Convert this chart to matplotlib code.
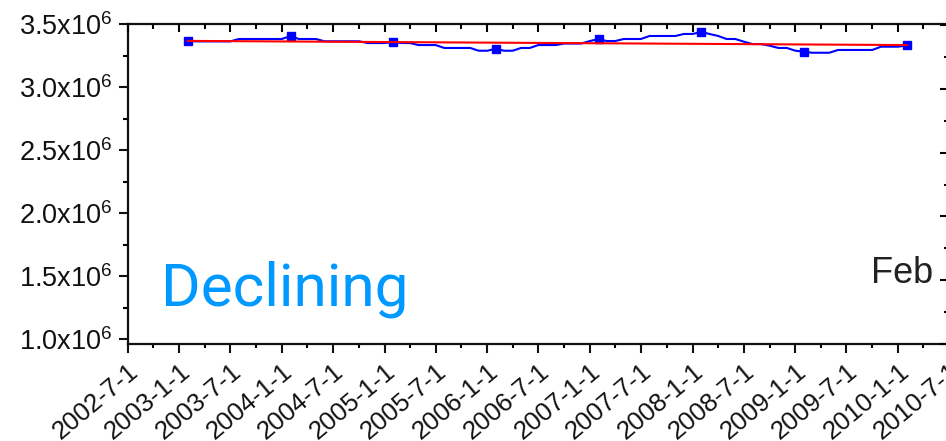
import datetime as dt
import matplotlib
matplotlib.use("Agg")
import matplotlib.pyplot as plt
import matplotlib.dates as mdates
from matplotlib.ticker import FixedLocator, FixedFormatter, NullFormatter

plt.rcParams["font.family"] = ["Liberation Sans", "DejaVu Sans"]
plt.rcParams["mathtext.fontset"] = "custom"
plt.rcParams["mathtext.rm"] = "Liberation Sans"
plt.rcParams["mathtext.it"] = "Liberation Sans"

# ---- data -------------------------------------------------------------
# monthly values, Feb 2003 .. Feb 2010
start_year, start_month = 2003, 2
monthly_values = [
    # 2003 (Feb-Dec)
    3.367e6, 3.362e6, 3.362e6, 3.362e6, 3.362e6, 3.362e6,
    3.381e6, 3.381e6, 3.381e6, 3.381e6, 3.381e6,
    # 2004
    3.381e6, 3.405e6, 3.381e6, 3.381e6, 3.381e6, 3.363e6,
    3.363e6, 3.363e6, 3.363e6, 3.363e6, 3.349e6, 3.349e6,
    # 2005
    3.349e6, 3.357e6, 3.349e6, 3.349e6, 3.333e6, 3.333e6,
    3.333e6, 3.310e6, 3.310e6, 3.310e6, 3.310e6, 3.288e6,
    # 2006
    3.288e6, 3.304e6, 3.288e6, 3.288e6, 3.310e6, 3.310e6,
    3.333e6, 3.333e6, 3.333e6, 3.345e6, 3.345e6, 3.345e6,
    # 2007
    3.365e6, 3.381e6, 3.365e6, 3.365e6, 3.381e6, 3.381e6,
    3.381e6, 3.405e6, 3.405e6, 3.405e6, 3.405e6, 3.421e6,
    # 2008
    3.421e6, 3.437e6, 3.421e6, 3.405e6, 3.381e6, 3.381e6,
    3.360e6, 3.341e6, 3.341e6, 3.328e6, 3.310e6, 3.310e6,
    # 2009
    3.288e6, 3.280e6, 3.272e6, 3.272e6, 3.272e6, 3.294e6,
    3.294e6, 3.294e6, 3.294e6, 3.294e6, 3.320e6, 3.320e6,
    # 2010 (Jan-Feb)
    3.320e6, 3.330e6,
]

# linear trend end points (Feb 2003, Feb 2010)
trend_dates = [dt.date(2003, 2, 1), dt.date(2010, 2, 1)]
trend_values = [3.366e6, 3.333e6]

x_tick_labels = ["2002-7-1", "2003-1-1", "2003-7-1", "2004-1-1", "2004-7-1",
                 "2005-1-1", "2005-7-1", "2006-1-1", "2006-7-1", "2007-1-1",
                 "2007-7-1", "2008-1-1", "2008-7-1", "2009-1-1", "2009-7-1",
                 "2010-1-1", "2010-7-1"]
y_tick_values = [1.0e6, 1.5e6, 2.0e6, 2.5e6, 3.0e6, 3.5e6]
y_tick_labels = [r"1.0x10$^{6}$", r"1.5x10$^{6}$", r"2.0x10$^{6}$",
                 r"2.5x10$^{6}$", r"3.0x10$^{6}$", r"3.5x10$^{6}$"]

# ---- derived positions -------------------------------------------------
def month_date(i):
    m = start_month - 1 + i
    return dt.date(start_year + m // 12, m % 12 + 1, 1)

month_dates = [month_date(i) for i in range(len(monthly_values))]
month_x = mdates.date2num(month_dates)
feb_idx = [i for i, d in enumerate(month_dates) if d.month == 2]
trend_x = mdates.date2num(trend_dates)

major_dates = [dt.date(int(s.split("-")[0]), int(s.split("-")[1]), 1) for s in x_tick_labels]
major_x = mdates.date2num(major_dates)
minor_x = mdates.date2num([dt.date(d.year, d.month + 3, 1) for d in major_dates[:-1]])
y_minor = [v + 0.25e6 for v in y_tick_values[:-1]]

# ---- figure -------------------------------------------------------------
W, H = 946, 441
fig = plt.figure(figsize=(W / 100, H / 100), dpi=100)

def px_box(left, top, right, bottom):
    return [left / W, 1 - bottom / H, (right - left) / W, (bottom - top) / H]

ax = fig.add_axes(px_box(127.5, 24, 949, 343.5))
ax.set_xlim(major_x[0], major_x[-1])
ax.set_ylim(0.966e6, 3.5e6)

ax.plot(month_x, monthly_values, color="#0000ff", lw=1.5,
        marker="s", ms=5.5, markevery=feb_idx, zorder=3)
ax.plot(trend_x, trend_values, color="#ff0000", lw=1.5, zorder=4)

ax.spines["right"].set_visible(False)
for side in ("left", "top", "bottom"):
    ax.spines[side].set_linewidth(1.6)
    ax.spines[side].set_color("#111111")

ax.xaxis.set_major_locator(FixedLocator(major_x))
ax.xaxis.set_minor_locator(FixedLocator(minor_x))
ax.xaxis.set_major_formatter(FixedFormatter(x_tick_labels))
ax.xaxis.set_minor_formatter(NullFormatter())
ax.yaxis.set_major_locator(FixedLocator(y_tick_values))
ax.yaxis.set_minor_locator(FixedLocator(y_minor))
ax.yaxis.set_major_formatter(FixedFormatter(y_tick_labels))

# inward ticks along the top edge (twin axis, shares the y scale)
top = ax.twiny()
top.set_xlim(ax.get_xlim())
top.xaxis.set_major_locator(FixedLocator(major_x))
top.xaxis.set_minor_locator(FixedLocator(minor_x))
top.xaxis.set_major_formatter(NullFormatter())
top.xaxis.set_minor_formatter(NullFormatter())
top.tick_params(axis="x", which="major", direction="in", length=6, width=1.5)
top.tick_params(axis="x", which="minor", direction="in", length=3.5, width=1.5)
for s in top.spines.values():
    s.set_visible(False)

ax.tick_params(axis="x", which="major", direction="out", length=6.5, width=1.5,
               pad=5, labelsize=18.5, colors="#111111", top=False)
ax.tick_params(axis="x", which="minor", direction="out", length=3, width=1.5, top=False)
ax.tick_params(axis="y", which="major", direction="out", length=6.5, width=1.5,
               pad=4, labelsize=19.5, colors="#111111", right=False)
ax.tick_params(axis="y", which="minor", direction="out", length=3.5, width=1.5, right=False)
for lab in ax.get_xticklabels():
    lab.set_rotation(40)
    lab.set_ha("right")
    lab.set_va("top")
    lab.set_rotation_mode("anchor")

# neighbouring panel, only its left ticks fall inside the figure
nb = fig.add_axes(px_box(947, 25.3, 1100, 343.7))
nb.set_ylim(1.0e6, 3.5e6)
nb.set_xticks([])
nb.yaxis.set_major_locator(FixedLocator(y_tick_values))
nb.yaxis.set_minor_locator(FixedLocator(y_minor))
nb.yaxis.set_major_formatter(NullFormatter())
nb.tick_params(axis="y", which="major", direction="out", length=5, width=1.5)
nb.tick_params(axis="y", which="minor", direction="out", length=2, width=1.5)
for s in nb.spines.values():
    s.set_visible(False)
nb.patch.set_visible(False)

fig.text(161 / W, 1 - 305 / H, "Declining", family="Roboto", fontsize=43.5,
         color="#0099ff", ha="left", va="baseline")
fig.text(871 / W, 1 - 283 / H, "Feb", fontsize=26, color="#222222",
         ha="left", va="baseline")

fig.savefig("out.png", dpi=100)
